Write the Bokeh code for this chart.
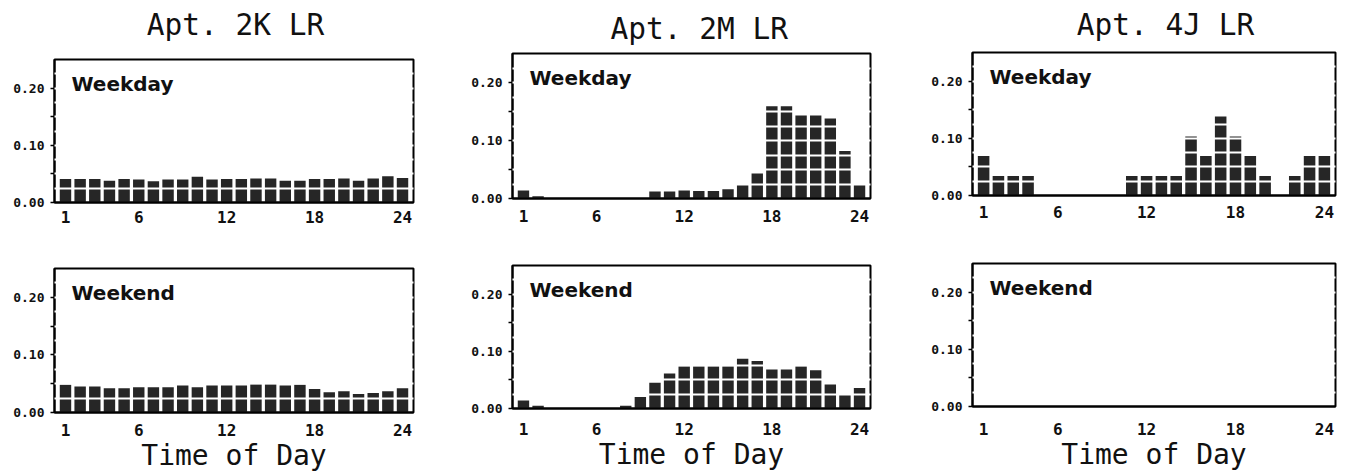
from bokeh.plotting import figure
from bokeh.layouts import row, column
from bokeh.models import FixedTicker, Label, Range1d
from bokeh.embed import file_html
from bokeh.resources import INLINE

# ---------------- data ----------------
hours = list(range(1, 25))
x_ticks = [1, 6, 12, 18, 24]
y_ticks = [0.0, 0.10, 0.20]
y_tick_labels = ["0.00", "0.10", "0.20"]
y_minor = [0.05, 0.15]

titles = ["Apt. 2K LR", "Apt. 2M LR", "Apt. 4J LR"]
x_label = "Time of Day"

apt2k_weekday = [0.041, 0.041, 0.041, 0.038, 0.041, 0.040, 0.037, 0.040, 0.040, 0.045,
                 0.040, 0.041, 0.041, 0.042, 0.042, 0.038, 0.038, 0.041, 0.041, 0.042,
                 0.038, 0.042, 0.046, 0.043]
apt2k_weekend = [0.048, 0.045, 0.045, 0.042, 0.042, 0.044, 0.044, 0.044, 0.047, 0.044,
                 0.047, 0.047, 0.047, 0.049, 0.049, 0.047, 0.048, 0.041, 0.035, 0.037,
                 0.032, 0.034, 0.037, 0.042]
apt2m_weekday = [0.014, 0.004, 0.0, 0.0, 0.0, 0.0, 0.0, 0.0, 0.0, 0.012,
                 0.012, 0.014, 0.013, 0.013, 0.016, 0.025, 0.043, 0.159, 0.159, 0.143,
                 0.143, 0.138, 0.082, 0.025]
apt2m_weekend = [0.014, 0.005, 0.0, 0.0, 0.0, 0.0, 0.0, 0.005, 0.020, 0.045,
                 0.061, 0.074, 0.074, 0.074, 0.074, 0.087, 0.083, 0.068, 0.068, 0.074,
                 0.067, 0.042, 0.024, 0.036]
apt4j_weekday = [0.069, 0.034, 0.034, 0.034, 0.0, 0.0, 0.0, 0.0, 0.0, 0.0,
                 0.034, 0.034, 0.034, 0.034, 0.103, 0.069, 0.138, 0.103, 0.069, 0.034,
                 0.0, 0.034, 0.069, 0.069]
apt4j_weekend = [0.0] * 24

weekday_series = [apt2k_weekday, apt2m_weekday, apt4j_weekday]
weekend_series = [apt2k_weekend, apt2m_weekend, apt4j_weekend]

# ---------------- layout / style ----------------
BAR = "#262626"
INK = "#111111"
MONO = "DejaVu Sans Mono"
band_levels = [0.025 * k for k in range(1, 10)]
X0, X1 = 0.25, 24.75
Y0, Y1 = 0.0, 0.25

STRIP_H = 50          # title strip height
TOP_H = 236 - STRIP_H
BOT_H = 238

# per column geometry (pixels); tt = top of the title text box, from the strip top
col_geom = [
    dict(w=460, bl=54, br=47, t=(9, 34, 8), b=(32, 62, 11, 0), tx=232, tt=7),
    dict(w=460, bl=52, br=50, t=(3, 38, 11), b=(29, 66, 14, 0), tx=240, tt=11),
    dict(w=442, bl=52, br=27, t=(2, 41, 10), b=(27, 68, 16, 0), tx=235, tt=7),
]


def title_strip(text, geom):
    s = figure(width=geom["w"], height=STRIP_H, output_backend="svg", toolbar_location=None,
               x_range=Range1d(0, geom["w"]), y_range=Range1d(0, STRIP_H),
               min_border_left=0, min_border_right=0, min_border_top=0, min_border_bottom=0)
    s.axis.visible = False
    s.grid.visible = False
    s.outline_line_color = None
    s.background_fill_color = "white"
    s.border_fill_color = "white"
    s.add_layout(Label(x=geom["tx"], y=STRIP_H - geom["tt"], text=text,
                       text_font=MONO, text_font_size="29.5px", text_color=INK,
                       text_align="center", text_baseline="top"))
    return s


def panel(values, label, geom, is_top):
    h = TOP_H if is_top else BOT_H
    if is_top:
        mt, mb, tstand = geom["t"]
    else:
        mt, mb, tstand, lstand = geom["b"]
    fw = geom["w"] - geom["bl"] - geom["br"]
    fh = h - mt - mb
    px_x = (X1 - X0) / fw
    px_y = (Y1 - Y0) / fh

    p = figure(width=geom["w"], height=h, output_backend="svg", toolbar_location=None,
               x_range=Range1d(X0, X1), y_range=Range1d(Y0, Y1),
               min_border_left=geom["bl"], min_border_right=geom["br"],
               min_border_top=mt, min_border_bottom=mb)
    p.vbar(x=hours, top=values, width=0.78, bottom=0, fill_color=BAR, line_color=None)

    # white bands across the bars (drawn above glyphs, below text labels)
    p.xgrid.visible = False
    p.ygrid.ticker = FixedTicker(ticks=band_levels)
    p.ygrid.grid_line_color = "white"
    p.ygrid.grid_line_width = 2
    p.ygrid.level = "guide"

    p.outline_line_color = "black"
    p.outline_line_width = 2
    p.outline_line_alpha = 1
    p.background_fill_color = "white"
    p.border_fill_color = "white"

    # x axis
    xa = p.xaxis[0]
    xa.ticker = FixedTicker(ticks=x_ticks)
    xa.major_tick_out = 0
    xa.major_tick_in = 0
    xa.minor_tick_out = 0
    xa.minor_tick_in = 0
    xa.axis_line_width = 2
    xa.major_label_text_font = MONO
    xa.major_label_text_font_style = "bold"
    xa.major_label_text_font_size = "16px"
    xa.major_label_text_color = INK
    xa.major_label_standoff = tstand
    if not is_top:
        xa.axis_label = x_label
        xa.axis_label_text_font = MONO
        xa.axis_label_text_font_style = "normal"
        xa.axis_label_text_font_size = "28px"
        xa.axis_label_text_color = INK
        xa.axis_label_standoff = lstand

    # y axis
    ya = p.yaxis[0]
    ya.ticker = FixedTicker(ticks=y_ticks, minor_ticks=y_minor)
    ya.major_label_overrides = {t: s for t, s in zip(y_ticks, y_tick_labels)}
    ya.major_tick_in = 0
    ya.major_tick_out = 4
    ya.minor_tick_in = 0
    ya.minor_tick_out = 4
    ya.major_tick_line_width = 1.5
    ya.minor_tick_line_width = 1.5
    ya.axis_line_width = 2
    ya.major_label_text_font = MONO
    ya.major_label_text_font_style = "bold"
    ya.major_label_text_font_size = "13px"
    ya.major_label_text_color = INK
    ya.major_label_standoff = 6

    p.add_layout(Label(x=X0 + 17 * px_x, y=Y1 - 12 * px_y, text=label, text_font="DejaVu Sans",
                       text_font_style="bold", text_font_size="20px",
                       text_color=INK, text_baseline="top", text_align="left"))
    return p


cols = []
for i in range(3):
    strip = title_strip(titles[i], col_geom[i])
    top = panel(weekday_series[i], "Weekday", col_geom[i], True)
    bot = panel(weekend_series[i], "Weekend", col_geom[i], False)
    cols.append(column(strip, top, bot, spacing=0))

layout = row(*cols, spacing=0)

open("out.html", "w").write(file_html(layout, INLINE))
